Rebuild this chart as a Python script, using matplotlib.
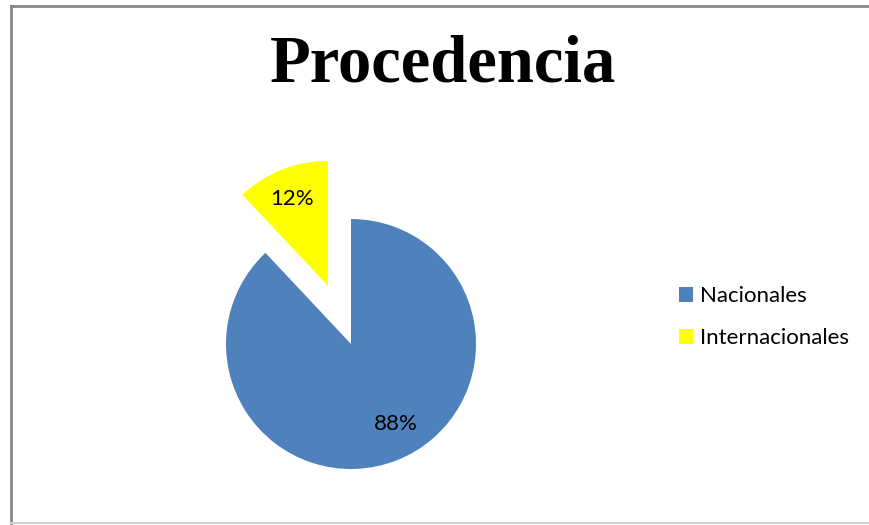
import matplotlib
matplotlib.use("Agg")
import matplotlib.pyplot as plt
from matplotlib.lines import Line2D
from matplotlib.patches import Rectangle
import numpy as np

title = "Procedencia"
categories = ["Nacionales", "Internacionales"]
values = [88, 12]
colors = ["#4F81BD", "#FFFF00"]
explode = [0.0, 0.5]

W, H = 870, 525
fig = plt.figure(figsize=(W / 100, H / 100), dpi=100)
fig.patch.set_facecolor("white")

# axes covering whole figure, 1 data unit = radius in pixels
R = 125.0
cx, cy = 351.0, H - 344.0
ax = fig.add_axes([0, 0, 1, 1])
wedges, texts, autotexts = ax.pie(
    values, colors=colors, explode=explode, startangle=90, counterclock=False,
    autopct="%1.0f%%", pctdistance=0.74,
    wedgeprops=dict(linewidth=0),
    textprops=dict(fontsize=16, family=["Lato", "DejaVu Sans"], color="black"))
ax.set_aspect("auto")
ax.set_xlim(-cx / R, (W - cx) / R)
ax.set_ylim(-cy / R, (H - cy) / R)
ax.axis("off")

# nudge labels toward the Excel placement
x, y = autotexts[0].get_position()
autotexts[0].set_position((x + 0.085, y + 0.045))
x, y = autotexts[1].get_position()
autotexts[1].set_position((x - 0.015, y + 0.005))

fig.text(443 / W, 1 - 65 / H, title, ha="center", va="center",
         fontsize=48, fontweight="bold", family="Liberation Serif")

handles = [Rectangle((0, 0), 1, 1, facecolor=c, edgecolor="none") for c in colors]
leg = fig.legend(handles, categories, loc="center left",
                 bbox_to_anchor=(659 / W, 1 - 317 / H), frameon=False,
                 prop=dict(family="Lato", size=16), handlelength=0.65,
                 handleheight=0.65, handletextpad=0.3, labelspacing=1.0)

# chart frame
fig.add_artist(Line2D([11 / W, 11 / W], [0, 1 - 6 / H], transform=fig.transFigure,
                      color="#888888", linewidth=2))
fig.add_artist(Line2D([11 / W, 1], [1 - 6 / H, 1 - 6 / H], transform=fig.transFigure,
                      color="#888888", linewidth=2))
fig.add_artist(Line2D([11 / W, 1], [1 - 523 / H, 1 - 523 / H], transform=fig.transFigure,
                      color="#D0D0D0", linewidth=1.5))

fig.savefig("out.png", dpi=100, facecolor="white")
